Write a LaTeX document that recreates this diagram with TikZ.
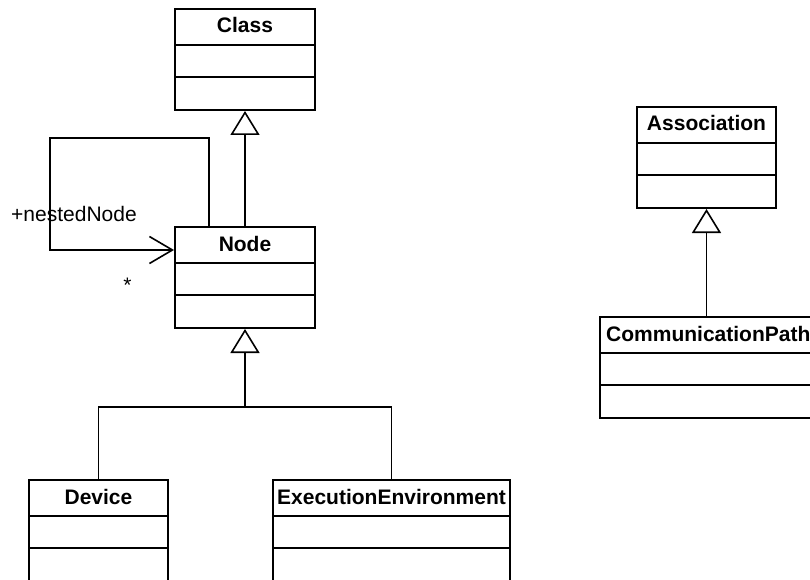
\documentclass[tikz,border=0pt]{standalone}
\usepackage{fontspec}
\setmainfont{Liberation Sans}
\usetikzlibrary{arrows.meta,calc}

% draws the two empty compartments under the header of a class box
\newcommand\umlcompartments[1]{%
  \draw[divider] ($(#1.north west)+(0,37)$) -- ($(#1.north east)+(0,37)$);
  \draw[divider] ($(#1.north west)+(0,69)$) -- ($(#1.north east)+(0,69)$);
}

\begin{document}
\begin{tikzpicture}[x=1pt,y=-1pt,
  classbox/.style={draw, line width=2pt, rectangle, inner sep=0pt, minimum height=101pt},
  divider/.style={line width=2pt},
  title/.style={font=\fontsize{21}{25}\selectfont\bfseries, inner sep=0pt, anchor=base},
  conn/.style={line width=1.3pt},
  gen/.style={conn, -{Triangle[open, length=24pt, width=29pt, line width=1.6pt]}},
  nav/.style={conn, -{Straight Barb[length=23pt, width=27pt, line width=1.6pt]}},
  lbl/.style={font=\fontsize{21}{25}\selectfont, inner sep=0pt}]
\useasboundingbox (0,0) rectangle (810,580);
\clip (0,0) rectangle (810,580);

% class boxes
\node[classbox, minimum width=140pt] (cls)   at (245, 59.5)   {};
\node[classbox, minimum width=140pt] (node)  at (245, 277.5)  {};
\node[classbox, minimum width=139pt] (dev)   at (98.5, 530.5) {};
\node[classbox, minimum width=237pt] (exe)   at (391.5, 530.5) {};
\node[classbox, minimum width=139pt] (assoc) at (706.5, 157.5) {};
\node[classbox, minimum width=214pt] (comm)  at (707, 367.5)  {};

\foreach \c in {cls,node,dev,exe,assoc,comm} {\umlcompartments{\c}}

% class names
\node[title] (clsT)   at ($(cls.north)+(0,25)$)   {Class};
\node[title] (nodeT)  at ($(node.north)+(0,25)$)  {Node};
\node[title] (devT)   at ($(dev.north)+(0,25)$)   {Device};
\node[title] (exeT)   at ($(exe.north)+(0,25)$)   {ExecutionEnvironment};
\node[title] (assocT) at ($(assoc.north)+(0,25)$) {Association};
\node[title, anchor=base west] (commT) at ($(comm.north west)+(7,25)$) {CommunicationPath};

% generalizations
\draw[gen] (node.north) -- (cls.south);
\coordinate (join) at ($(node.south)+(0,78)$);
\draw[gen] (dev.north) |- (join) -- (node.south);
\draw[conn] (exe.north) |- (join);
\draw[gen] (assoc.south |- comm.north) -- (assoc.south);

% nestedNode self association
\coordinate (selfout) at ($(node.north west)+(35,0)$);
\coordinate (selfin)  at ($(node.north west)+(0,24)$);
\draw[nav] (selfout) -- ++(0,-88) -| ($(selfin)+(-124,0)$) -- (selfin);
\node[lbl, anchor=base west] (navname) at ($(selfin)+(-163,-29)$) {+nestedNode};
\node[lbl, anchor=base] (navmult) at ($(selfin)+(-46.5,42)$) {*};
\end{tikzpicture}
\end{document}
